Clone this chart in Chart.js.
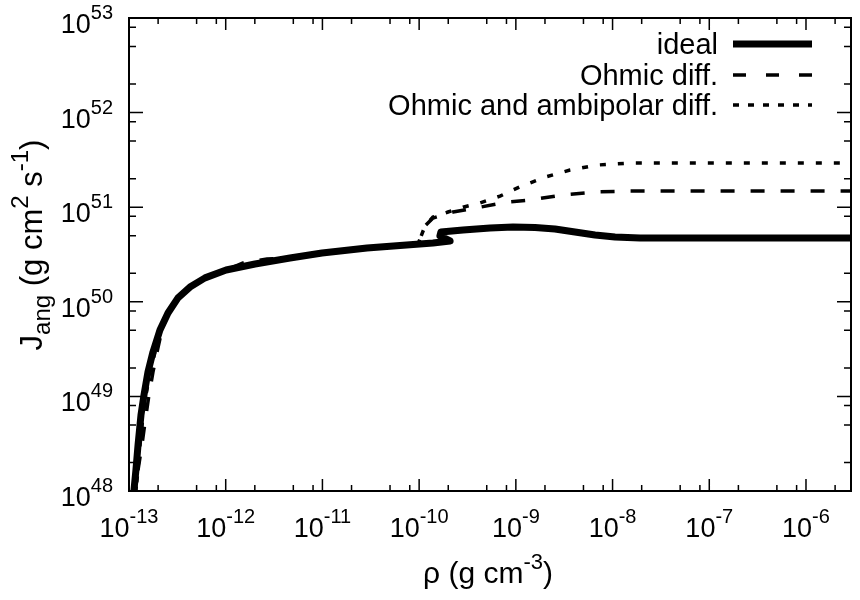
<!DOCTYPE html>
<html>
<head>
<meta charset="utf-8">
<script src="https://cdn.jsdelivr.net/npm/chart.js@4.4.1/dist/chart.umd.min.js"></script>
<style>
  html, body { margin: 0; padding: 0; background: #fff; }
</style>
</head>
<body>
<canvas id="jangChart" width="860" height="600"></canvas>
<script>
// rho in g cm^-3, J_ang in g cm^2 s^-1
const idealRho = [1.10e-13, 1.18e-13, 1.24e-13, 1.33e-13, 1.43e-13, 1.57e-13, 1.77e-13, 2.09e-13, 2.53e-13,
  3.21e-13, 4.27e-13, 6.11e-13, 1.01e-12, 2.01e-12, 4.62e-12, 9.91e-12, 2.89e-11, 1.39e-10, 2.09e-10,
  1.64e-10, 1.68e-10, 2.84e-10, 5.41e-10, 9.35e-10, 1.58e-9, 2.54e-9, 4.09e-9, 6.59e-9, 1.06e-8,
  1.92e-8, 3.2e-6];
const idealJ = [8.0e47, 1.67e48, 3.06e48, 6.35e48, 1.04e49, 1.81e49, 2.95e49, 5.03e49, 7.62e49,
  1.10e50, 1.43e50, 1.79e50, 2.17e50, 2.51e50, 2.90e50, 3.28e50, 3.71e50, 4.19e50, 4.40e50,
  4.97e50, 5.47e50, 5.74e50, 6.03e50, 6.18e50, 6.10e50, 5.89e50, 5.47e50, 5.08e50, 4.84e50,
  4.72e50, 4.72e50];

const ohmicRho = [1.15e-13, 1.24e-13, 1.36e-13, 1.50e-13, 1.61e-13, 1.77e-13, 1.95e-13, 2.19e-13, 2.53e-13,
  3.21e-13, 4.27e-13, 6.11e-13, 1.01e-12, 1.51e-12, 2.67e-12, 4.62e-12, 9.91e-12, 2.89e-11, 9.74e-11,
  1.05e-10, 1.15e-10, 1.39e-10, 2.24e-10, 4.26e-10, 8.11e-10, 1.40e-9, 3.08e-9, 6.91e-9, 1.52e-8, 3.2e-6];
const ohmicJ = [8.0e47, 1.67e48, 3.06e48, 6.35e48, 1.04e49, 1.81e49, 2.95e49, 5.03e49, 7.62e49,
  1.10e50, 1.43e50, 1.79e50, 2.17e50, 2.57e50, 2.83e50, 2.90e50, 3.28e50, 3.71e50, 4.08e50,
  4.97e50, 6.33e50, 7.69e50, 8.89e50, 1.00e51, 1.13e51, 1.19e51, 1.35e51, 1.45e51, 1.48e51, 1.48e51];

const ambiRho = [1.15e-13, 1.24e-13, 1.30e-13, 1.40e-13, 1.50e-13, 1.65e-13, 1.86e-13, 2.14e-13, 2.53e-13,
  3.21e-13, 4.27e-13, 6.11e-13, 1.01e-12, 1.51e-12, 2.67e-12, 4.62e-12, 9.91e-12, 2.89e-11, 9.74e-11,
  1.05e-10, 1.15e-10, 1.39e-10, 1.99e-10, 2.84e-10, 4.26e-10, 6.86e-10, 1.10e-9, 2.00e-9, 3.63e-9,
  6.91e-9, 1.52e-8, 3.2e-6];
const ambiJ = [8.0e47, 1.67e48, 3.06e48, 6.35e48, 1.04e49, 1.81e49, 2.95e49, 5.03e49, 7.62e49,
  1.10e50, 1.43e50, 1.79e50, 2.17e50, 2.39e50, 2.64e50, 2.90e50, 3.28e50, 3.71e50, 4.08e50,
  4.97e50, 6.33e50, 7.87e50, 8.89e50, 1.00e51, 1.11e51, 1.31e51, 1.64e51, 2.08e51, 2.47e51,
  2.79e51, 2.93e51, 2.93e51];

const seriesLabels = ['ideal', 'Ohmic diff.', 'Ohmic and ambipolar diff.'];
const xTickExps = [-13, -12, -11, -10, -9, -8, -7, -6];
const yTickExps = [48, 49, 50, 51, 52, 53];
const minorMantissas = [2, 5, 8];

const FONT = '"Liberation Sans", Arial, Helvetica, sans-serif';

const toPoints = (xs, ys) => xs.map((x, i) => ({ x: x, y: ys[i] }));

// draws a run of text pieces, each [text, size, baselineShift]
function drawParts(ctx, parts, x, y, align) {
  let w = 0;
  parts.forEach(p => {
    ctx.font = p[1] + 'px ' + FONT;
    w += ctx.measureText(p[0]).width;
  });
  let cx = align === 'center' ? x - w / 2 : align === 'right' ? x - w : x;
  parts.forEach(p => {
    ctx.font = p[1] + 'px ' + FONT;
    ctx.fillText(p[0], cx, y + p[2]);
    cx += ctx.measureText(p[0]).width;
  });
}

const powLabel = exp => [['10', 27, 0], [String(exp), 20, -14]];

const gnuplotFrame = {
  id: 'gnuplotFrame',
  afterDraw(chart) {
    const ctx = chart.ctx;
    const area = chart.chartArea;
    const xs = chart.scales.x;
    const ys = chart.scales.y;
    ctx.save();
    ctx.fillStyle = '#000';
    ctx.strokeStyle = '#000';
    ctx.textAlign = 'left';
    ctx.textBaseline = 'alphabetic';

    // border
    ctx.lineWidth = 2;
    ctx.strokeRect(area.left, area.top, area.right - area.left, area.bottom - area.top);

    // inward ticks, mirrored on top and right
    ctx.lineWidth = 1.5;
    ctx.beginPath();
    xTickExps.forEach(e => {
      [1].concat(minorMantissas).forEach(m => {
        const v = m * Math.pow(10, e);
        if (v < xs.min * 0.999 || v > xs.max) return;
        const px = xs.getPixelForValue(v);
        const len = m === 1 ? 12 : 6;
        ctx.moveTo(px, area.bottom); ctx.lineTo(px, area.bottom - len);
        ctx.moveTo(px, area.top); ctx.lineTo(px, area.top + len);
      });
    });
    yTickExps.forEach(e => {
      [1].concat(minorMantissas).forEach(m => {
        const v = m * Math.pow(10, e);
        if (v < ys.min * 0.999 || v > ys.max * 1.001) return;
        const py = ys.getPixelForValue(v);
        const len = m === 1 ? 14 : 7;
        ctx.moveTo(area.left, py); ctx.lineTo(area.left + len, py);
        ctx.moveTo(area.right, py); ctx.lineTo(area.right - len, py);
      });
    });
    ctx.stroke();

    // tick labels
    xTickExps.forEach(e => {
      drawParts(ctx, powLabel(e), xs.getPixelForValue(Math.pow(10, e)), 537, 'center');
    });
    yTickExps.forEach(e => {
      drawParts(ctx, powLabel(e), 113, ys.getPixelForValue(Math.pow(10, e)) + 15, 'right');
    });

    // axis titles
    drawParts(ctx, [['\u03c1 (g cm', 30, 0], ['-3', 22, -14], [')', 30, 0]], 488, 583, 'center');
    ctx.save();
    ctx.translate(42, 245);
    ctx.rotate(-Math.PI / 2);
    drawParts(ctx, [['J', 31, 0], ['ang', 24, 8], [' (g cm', 31, 0], ['2', 24, -14],
      [' s', 31, 0], ['-1', 24, -14], [')', 31, 0]], 0, 0, 'center');
    ctx.restore();

    // key, top right
    const rows = [44, 75, 105];
    chart.data.datasets.forEach((ds, i) => {
      drawParts(ctx, [[ds.label, 29, 0]], 718, rows[i] + 10, 'right');
      ctx.beginPath();
      ctx.lineWidth = ds.borderWidth;
      ctx.setLineDash(i === 0 ? [] : i === 1 ? [13, 20] : [6, 9]);
      ctx.moveTo(733, rows[i]);
      ctx.lineTo(812, rows[i]);
      ctx.stroke();
    });
    ctx.setLineDash([]);
    ctx.restore();
  }
};

new Chart(document.getElementById('jangChart'), {
  type: 'scatter',
  data: {
    datasets: [
      {
        label: seriesLabels[0],
        data: toPoints(idealRho, idealJ),
        showLine: true,
        borderColor: '#000',
        borderWidth: 7,
        borderJoinStyle: 'round',
        pointRadius: 0,
        clip: 0
      },
      {
        label: seriesLabels[1],
        data: toPoints(ohmicRho, ohmicJ),
        showLine: true,
        borderColor: '#000',
        borderWidth: 3.5,
        borderDash: [14, 16],
        pointRadius: 0,
        clip: 0
      },
      {
        label: seriesLabels[2],
        data: toPoints(ambiRho, ambiJ),
        showLine: true,
        borderColor: '#000',
        borderWidth: 3.5,
        borderDash: [6, 12],
        pointRadius: 0,
        clip: 0
      }
    ]
  },
  options: {
    responsive: false,
    animation: false,
    devicePixelRatio: 1,
    layout: { padding: { left: 129, right: 9, top: 18, bottom: 109 } },
    plugins: {
      legend: { display: false },
      tooltip: { enabled: false }
    },
    scales: {
      x: { type: 'logarithmic', min: 1e-13, max: 2.92e-6, display: false },
      y: { type: 'logarithmic', min: 1e48, max: 1e53, display: false }
    }
  },
  plugins: [gnuplotFrame]
});
</script>
</body>
</html>
